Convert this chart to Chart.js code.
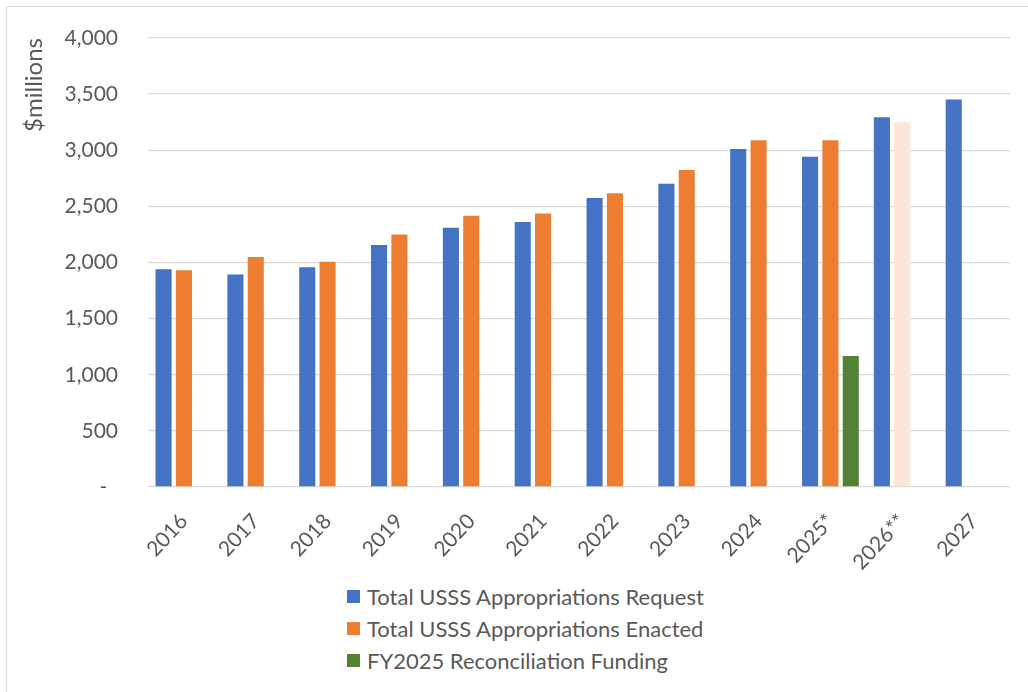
<!DOCTYPE html>
<html>
<head>
<meta charset="utf-8">
<script src="https://cdn.jsdelivr.net/npm/chart.js@4.4.1/dist/chart.umd.min.js"></script>
<style>
  body { margin: 0; background: #fff; overflow: hidden; font-family: Lato, "Liberation Sans", sans-serif; }
  #frame { position: absolute; left: 6px; top: 6px; width: 1100px; height: 800px; border: 1.5px solid #D9D9D9; }
  #wrap { position: absolute; left: 0; top: 0; width: 1028px; height: 580px; }
  #legend { position: absolute; left: 347px; top: 580px; color: #595959; font-size: 22px; }
  .item { display: flex; align-items: center; height: 32px; }
  .box { width: 13px; height: 13px; margin-right: 7px; }
</style>
</head>
<body>
<div id="frame"></div>
<div id="wrap"><canvas id="myChart"></canvas></div>
<div id="legend"></div>
<script>
// values, $ millions
var years = ['2016', '2017', '2018', '2019', '2020', '2021', '2022', '2023', '2024', '2025*', '2026**', '2027'];
var requested = [1940, 1893, 1958, 2155, 2310, 2360, 2574, 2702, 3012, 2943, 3294, 3452];
var enacted = [1931, 2048, 2006, 2250, 2417, 2437, 2616, 2824, 3089, 3089, 3250, null];
var reconciliation = [null, null, null, null, null, null, null, null, null, 1167, null, null];
var seriesNames = ['Total USSS Appropriations Request', 'Total USSS Appropriations Enacted', 'FY2025 Reconciliation Funding'];

var colors = ['#4472C4', '#ED7D31', '#548235'];
var pending = '#FBE5D6'; // 2026** not yet enacted

var ctx = document.getElementById('myChart');
var chart = new Chart(ctx, {
  type: 'bar',
  data: {
    labels: years,
    datasets: [{
      label: seriesNames[0],
      data: requested,
      backgroundColor: colors[0]
    }, {
      label: seriesNames[1],
      data: enacted,
      backgroundColor: function(c) {
        return years[c.dataIndex] === '2026**' ? pending : colors[1];
      }
    }, {
      label: seriesNames[2],
      data: reconciliation,
      backgroundColor: colors[2]
    }]
  },
  options: {
    responsive: true,
    maintainAspectRatio: false,
    animation: false,
    categoryPercentage: 0.85,
    barPercentage: 0.79,
    layout: { padding: { top: 38, right: 18, left: 0, bottom: 0 } },
    plugins: {
      legend: { display: false },
      tooltip: { enabled: false }
    },
    scales: {
      x: {
        grid: { display: false },
        border: { display: false },
        ticks: {
          color: '#595959',
          font: { family: 'Lato', size: 21 },
          minRotation: 47,
          maxRotation: 47,
          padding: 14
        },
        afterFit: function(scale) { scale.height = 93; }
      },
      y: {
        min: 0,
        max: 4000,
        grid: { color: '#D9D9D9', lineWidth: 1.3, drawTicks: false },
        border: { display: false },
        ticks: {
          stepSize: 500,
          color: '#595959',
          font: { family: 'Lato', size: 21 },
          padding: 30,
          callback: function(v) { return v === 0 ? '-  ' : v.toLocaleString('en-US'); }
        },
        title: {
          display: true,
          text: '$millions',
          align: 'end',
          color: '#595959',
          font: { family: 'Lato', size: 24 },
          padding: { top: 20, bottom: 0 }
        },
        afterFit: function(scale) {
          scale.width = 148;
          // tick padding shouldn't push the plot down
          scale.paddingTop = 0;
          scale.paddingBottom = 0;
        }
      }
    }
  }
});

// legend as a single column, like the original
var legend = document.getElementById('legend');
for (var i = 0; i < seriesNames.length; i++) {
  var row = document.createElement('div');
  row.className = 'item';
  row.innerHTML = '<span class="box" style="background:' + colors[i] + '"></span>' + seriesNames[i];
  legend.appendChild(row);
}
</script>
</body>
</html>
